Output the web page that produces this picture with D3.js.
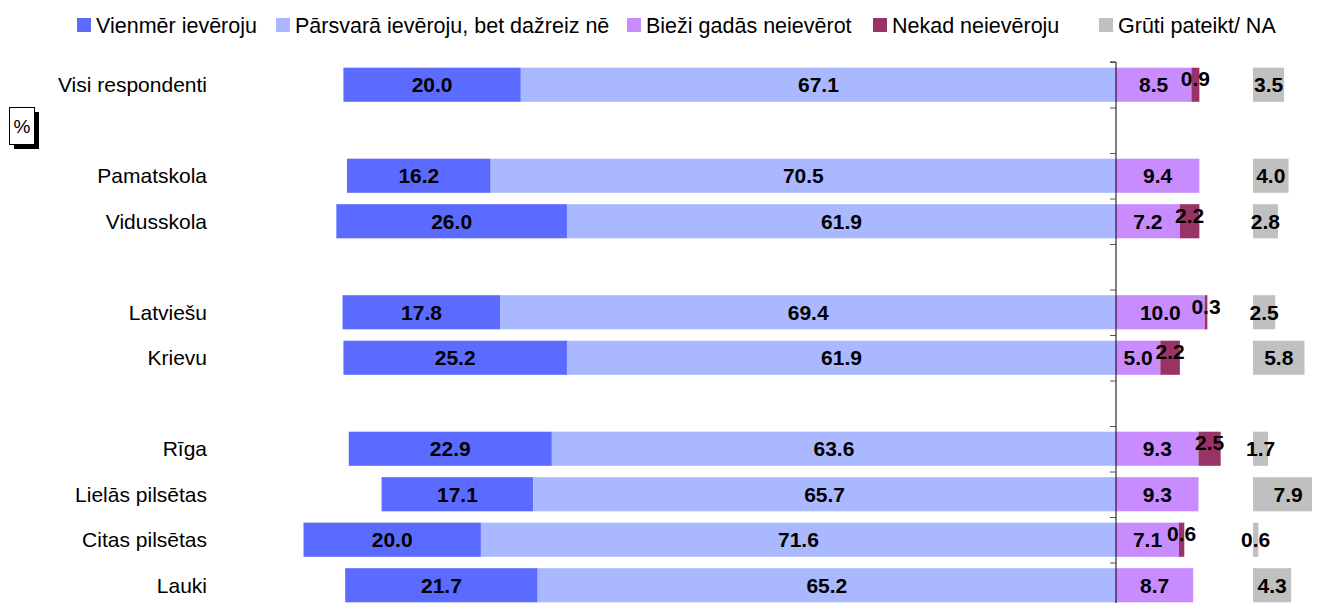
<!DOCTYPE html>
<html>
<head>
<meta charset="utf-8">
<script src="https://cdn.jsdelivr.net/npm/d3@7"></script>
<style>
  body { margin: 0; background: #fff; }
  text { font-family: "Liberation Sans", Arial, sans-serif; }
</style>
</head>
<body>
<div id="chart"></div>
<script>
// Row labels (empty strings are the gaps between groups)
var categories = ["Visi respondenti", "", "Pamatskola", "Vidusskola", "", "Latviešu", "Krievu", "", "Rīga", "Lielās pilsētas", "Citas pilsētas", "Lauki"];

// Series values, one per row (null for gap rows)
var vienmer  = [20.0, null, 16.2, 26.0, null, 17.8, 25.2, null, 22.9, 17.1, 20.0, 21.7];
var parsvara = [67.1, null, 70.5, 61.9, null, 69.4, 61.9, null, 63.6, 65.7, 71.6, 65.2];
var biezi    = [8.5, null, 9.4, 7.2, null, 10.0, 5.0, null, 9.3, 9.3, 7.1, 8.7];
var nekad    = [0.9, null, 0, 2.2, null, 0.3, 2.2, null, 2.5, 0, 0.6, 0];
var gruti    = [3.5, null, 4.0, 2.8, null, 2.5, 5.8, null, 1.7, 7.9, 0.6, 4.3];

var seriesNames = ["Vienmēr ievēroju", "Pārsvarā ievēroju, bet dažreiz nē", "Bieži gadās neievērot", "Nekad neievēroju", "Grūti pateikt/ NA"];
var colors = ["#5b6bff", "#aab8ff", "#c88cff", "#993366", "#c0c0c0"];

var width = 1318, height = 603;
var zeroX = 1116;          // position of the dividing axis
var unit = 8.87;           // pixels per percent
var naOffset = 15.45;      // where the NA bars start, in percent units right of the axis

var svg = d3.select("#chart").append("svg")
  .attr("width", width)
  .attr("height", height);

var x = d3.scaleLinear()
  .domain([0, 100])
  .range([zeroX, zeroX + 100 * unit]);

var rowTop = 62, rowStep = 45.5;
var y = d3.scaleBand()
  .domain(d3.range(categories.length))
  .range([rowTop, rowTop + rowStep * categories.length])
  .paddingInner(0.25)
  .paddingOuter(0.125);

var yIdx = d3.scaleLinear()
  .domain([0, categories.length])
  .range([rowTop, rowTop + rowStep * categories.length]);

// build segments
var segs = [];
categories.forEach(function(c, i) {
  if (vienmer[i] == null) return;
  var left = -(vienmer[i] + parsvara[i]);
  segs.push({ i: i, s: 0, x0: left, x1: left + vienmer[i], v: vienmer[i] });
  segs.push({ i: i, s: 1, x0: -parsvara[i], x1: 0, v: parsvara[i] });
  segs.push({ i: i, s: 2, x0: 0, x1: biezi[i], v: biezi[i] });
  if (nekad[i] > 0) segs.push({ i: i, s: 3, x0: biezi[i], x1: biezi[i] + nekad[i], v: nekad[i] });
  segs.push({ i: i, s: 4, x0: naOffset, x1: naOffset + gruti[i], v: gruti[i] });
});

svg.append("defs").append("clipPath").attr("id", "clip")
  .append("rect").attr("x", 0).attr("y", 0).attr("width", 1312).attr("height", height);

var g = svg.append("g").attr("clip-path", "url(#clip)");

g.selectAll("rect.bar")
  .data(segs)
  .enter()
  .append("rect")
  .attr("class", "bar")
  .attr("x", function(d) { return x(d.x0); })
  .attr("width", function(d) { return x(d.x1) - x(d.x0); })
  .attr("y", function(d) { return y(d.i); })
  .attr("height", y.bandwidth())
  .attr("fill", function(d) { return colors[d.s]; });

// value labels
svg.selectAll("text.val")
  .data(segs)
  .enter()
  .append("text")
  .attr("class", "val")
  .attr("x", function(d) { return (x(d.x0) + x(d.x1)) / 2; })
  .attr("y", function(d) { return y(d.i) + y.bandwidth() / 2 + (d.s == 3 ? -6 : 0); })
  .attr("dy", "0.36em")
  .attr("text-anchor", "middle")
  .attr("font-size", "21px")
  .attr("font-weight", "bold")
  .attr("fill", "#000")
  .text(function(d) { return d.v.toFixed(1); });

// axis at zero with ticks on row boundaries
var axis = d3.axisLeft(yIdx)
  .tickValues(d3.range(0, categories.length + 1))
  .tickSize(6)
  .tickFormat("");

var ax = svg.append("g")
  .attr("transform", "translate(" + zeroX + ",0)")
  .call(axis);
ax.select(".domain").attr("d", "M-6," + rowTop + "H0V" + (height + 10)).attr("stroke", "#000");
ax.selectAll(".tick line").attr("stroke", "#555");

// row labels
svg.selectAll("text.cat")
  .data(categories)
  .enter()
  .append("text")
  .attr("class", "cat")
  .attr("x", 207)
  .attr("y", function(d, i) { return y(i) + y.bandwidth() / 2; })
  .attr("dy", "0.36em")
  .attr("text-anchor", "end")
  .attr("font-size", "21px")
  .attr("fill", "#000")
  .text(function(d) { return d; });

// legend
var legendX = [77, 276, 627, 873, 1099];
var legend = svg.selectAll("g.leg")
  .data(seriesNames)
  .enter()
  .append("g")
  .attr("class", "leg")
  .attr("transform", function(d, i) { return "translate(" + legendX[i] + ",25)"; });

legend.append("rect")
  .attr("x", 0).attr("y", -7)
  .attr("width", 14).attr("height", 14)
  .attr("fill", function(d, i) { return colors[i]; });

legend.append("text")
  .attr("x", 19)
  .attr("dy", "0.36em")
  .attr("font-size", "21.5px")
  .attr("fill", "#000")
  .text(function(d) { return d; });

// "%" box with shadow
svg.append("rect").attr("x", 14).attr("y", 112).attr("width", 25).attr("height", 37).attr("fill", "#000");
svg.append("rect").attr("x", 9.5).attr("y", 107.5).attr("width", 25).attr("height", 37)
  .attr("fill", "#fff").attr("stroke", "#000").attr("stroke-width", 1);
svg.append("text").attr("x", 22).attr("y", 126).attr("dy", "0.36em")
  .attr("text-anchor", "middle").attr("font-size", "19px").text("%");
</script>
</body>
</html>
